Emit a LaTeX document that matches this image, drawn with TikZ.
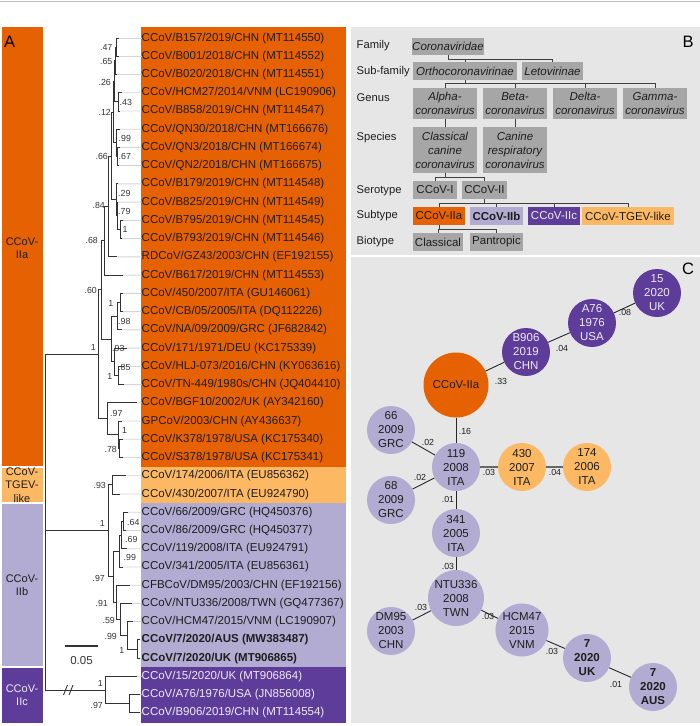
\documentclass[tikz,border=0pt]{standalone}
\usepackage{fontspec}
\setmainfont{Liberation Sans}
\definecolor{cIIa}{HTML}{E66101}
\definecolor{cTG}{HTML}{FDB863}
\definecolor{cIIb}{HTML}{B2ABD2}
\definecolor{cIIc}{HTML}{5E3C99}
\definecolor{panel}{HTML}{E6E6E6}
\definecolor{gboxc}{HTML}{A6A6A6}
\definecolor{ink}{HTML}{1E1E1E}
\definecolor{treec}{HTML}{333333}
\definecolor{extc}{HTML}{D6D6D6}
\definecolor{ltxt}{HTML}{EEEAF6}
\begin{document}
\begin{tikzpicture}[x=1pt,y=-1pt,
  lab/.style={anchor=west,inner sep=0pt,text height=8.5pt,text depth=2.5pt,font=\fontsize{11.5}{13}\selectfont,text=ink},
  supl/.style={anchor=east,inner sep=0pt,font=\fontsize{8.8}{10}\selectfont,text=treec},
  supr/.style={anchor=west,inner sep=0pt,font=\fontsize{8.8}{10}\selectfont,text=treec},
  br/.style={draw=treec,line width=0.9pt},
  ex/.style={draw=extc,line width=0.9pt},
  clab/.style={align=center,inner sep=0pt,font=\fontsize{11}{13.5}\selectfont,text=ink},
  plab/.style={inner sep=0pt,font=\fontsize{16.5}{18}\selectfont,text=black},
  rowl/.style={anchor=west,inner sep=0pt,font=\fontsize{11.2}{14}\selectfont,text=ink},
  gb/.style={fill=gboxc,inner sep=0pt,align=center,font=\fontsize{11.5}{14}\selectfont,text=ink},
  itx/.style={font=\fontsize{11.5}{14}\selectfont\itshape},
  bl/.style={draw=black!75,line width=0.9pt},
  cc/.style={circle,inner sep=0pt,minimum size=48pt,align=center,font=\fontsize{11.5}{14}\selectfont,text=ink},
  el/.style={inner sep=0pt,font=\fontsize{8.8}{10}\selectfont,text=ink},
  ce/.style={draw=black!85,line width=0.9pt}
]
\useasboundingbox (0,0) rectangle (700,726);
\fill[white] (0,0) rectangle (700,726);
\draw[black!25,line width=1pt] (0,1.5) -- (700,1.5);

% ---------------- Panel A ----------------
\fill[cIIa] (2,27) rectangle (43,465.8);
\fill[cTG]  (2,467.6) rectangle (43,502.4);
\fill[cIIb] (2,504.2) rectangle (43,666.4);
\fill[cIIc] (2,668.2) rectangle (43,723);
\fill[cIIa] (141,27) rectangle (346,467);
\fill[cTG]  (141,467) rectangle (346,503.2);
\fill[cIIb] (141,503.2) rectangle (346,667.3);
\fill[cIIc] (141,667.3) rectangle (346,723);

\node[plab,anchor=west] (pA) at (4,42) {A};
\node[clab] (gIIa) at (22,248) {CCoV-\\IIa};
\node[clab] (gTG) at (22,485) {CCoV-\\TGEV-\\like};
\node[clab] (gIIb) at (22,585) {CCoV-\\IIb};
\node[clab,text=ltxt] (gIIc) at (22,695) {CCoV-\\IIc};

% leaf tips
\foreach \i/\tx in {1/119,2/119,3/117,4/122,5/120,6/120,7/120,8/119,9/118,10/118,
  11/123,12/122,13/117,14/123,15/123,16/123,17/122,18/127,19/124,20/124,
  21/137,22/122,23/123,24/123,25/126,26/120,27/128,28/126,29/127,30/123,
  31/130,32/132,33/133,34/140,35/140,36/137,37/140,38/140}
  \coordinate (L\i) at (\tx,{38+18.24*(\i-1)});

% leaf labels
\node[lab] (t1) at (141.5,38.00) {CCoV/B157/2019/CHN (MT114550)};
\node[lab] (t2) at (141.5,56.24) {CCoV/B001/2018/CHN (MT114552)};
\node[lab] (t3) at (141.5,74.48) {CCoV/B020/2018/CHN (MT114551)};
\node[lab] (t4) at (141.5,92.72) {CCoV/HCM27/2014/VNM (LC190906)};
\node[lab] (t5) at (141.5,110.96) {CCoV/B858/2019/CHN (MT114547)};
\node[lab] (t6) at (141.5,129.20) {CCoV/QN30/2018/CHN (MT166676)};
\node[lab] (t7) at (141.5,147.44) {CCoV/QN3/2018/CHN (MT166674)};
\node[lab] (t8) at (141.5,165.68) {CCoV/QN2/2018/CHN (MT166675)};
\node[lab] (t9) at (141.5,183.92) {CCoV/B179/2019/CHN (MT114548)};
\node[lab] (t10) at (141.5,202.16) {CCoV/B825/2019/CHN (MT114549)};
\node[lab] (t11) at (141.5,220.40) {CCoV/B795/2019/CHN (MT114545)};
\node[lab] (t12) at (141.5,238.64) {CCoV/B793/2019/CHN (MT114546)};
\node[lab] (t13) at (141.5,256.88) {RDCoV/GZ43/2003/CHN (EF192155)};
\node[lab] (t14) at (141.5,275.12) {CCoV/B617/2019/CHN (MT114553)};
\node[lab] (t15) at (141.5,293.36) {CCoV/450/2007/ITA (GU146061)};
\node[lab] (t16) at (141.5,311.60) {CCoV/CB/05/2005/ITA (DQ112226)};
\node[lab] (t17) at (141.5,329.84) {CCoV/NA/09/2009/GRC (JF682842)};
\node[lab] (t18) at (141.5,348.08) {CCoV/171/1971/DEU (KC175339)};
\node[lab] (t19) at (141.5,366.32) {CCoV/HLJ-073/2016/CHN (KY063616)};
\node[lab] (t20) at (141.5,384.56) {CCoV/TN-449/1980s/CHN (JQ404410)};
\node[lab] (t21) at (141.5,402.80) {CCoV/BGF10/2002/UK (AY342160)};
\node[lab] (t22) at (141.5,421.04) {GPCoV/2003/CHN (AY436637)};
\node[lab] (t23) at (141.5,439.28) {CCoV/K378/1978/USA (KC175340)};
\node[lab] (t24) at (141.5,457.52) {CCoV/S378/1978/USA (KC175341)};
\node[lab] (t25) at (141.5,475.76) {CCoV/174/2006/ITA (EU856362)};
\node[lab] (t26) at (141.5,494.00) {CCoV/430/2007/ITA (EU924790)};
\node[lab] (t27) at (141.5,512.24) {CCoV/66/2009/GRC (HQ450376)};
\node[lab] (t28) at (141.5,530.48) {CCoV/86/2009/GRC (HQ450377)};
\node[lab] (t29) at (141.5,548.72) {CCoV/119/2008/ITA (EU924791)};
\node[lab] (t30) at (141.5,566.96) {CCoV/341/2005/ITA (EU856361)};
\node[lab] (t31) at (141.5,585.20) {CFBCoV/DM95/2003/CHN (EF192156)};
\node[lab] (t32) at (141.5,603.44) {CCoV/NTU336/2008/TWN (GQ477367)};
\node[lab] (t33) at (141.5,621.68) {CCoV/HCM47/2015/VNM (LC190907)};
\node[lab,font=\fontsize{11.5}{13}\selectfont\bfseries] (t34) at (141.5,639.92) {CCoV/7/2020/AUS (MW383487)};
\node[lab,font=\fontsize{11.5}{13}\selectfont\bfseries] (t35) at (141.5,658.16) {CCoV/7/2020/UK (MT906865)};
\node[lab,text=ltxt] (t36) at (141.5,676.40) {CCoV/15/2020/UK (MT906864)};
\node[lab,text=ltxt] (t37) at (141.5,694.64) {CCoV/A76/1976/USA (JN856008)};
\node[lab,text=ltxt] (t38) at (141.5,712.88) {CCoV/B906/2019/CHN (MT114554)};

\foreach \i in {1,...,38} \draw[ex] (L\i) -- (t\i.west);

% internal nodes
\coordinate (n47) at (116,47.12);
\coordinate (n65) at (115,60.8);
\coordinate (n43) at (118,101.84);
\coordinate (n26) at (114,81.32);
\coordinate (n67) at (117,156.56);
\coordinate (n99) at (116,142.88);
\coordinate (n12) at (113,112.1);
\coordinate (n1a) at (120,229.52);
\coordinate (n79) at (117,215.84);
\coordinate (n29) at (116,199.88);
\coordinate (n66) at (111,156);
\coordinate (n84) at (108,206.44);
\coordinate (n68) at (104,240.78);
\coordinate (n1b) at (120,302.48);
\coordinate (n98) at (117,316.16);
\coordinate (n1c) at (118,375.44);
\coordinate (n85) at (114,361.76);
\coordinate (n93) at (111,338.96);
\coordinate (n60) at (101,289.87);
\coordinate (n78) at (119,448.4);
\coordinate (nGP) at (118,434.72);
\coordinate (n97) at (107,418.76);
\coordinate (nIIa) at (98,354.3);
\coordinate (n93t) at (112,484.88);
\coordinate (n64) at (123,521.36);
\coordinate (n69) at (121,535.04);
\coordinate (n99b) at (119,551);
\coordinate (n7) at (137,649.04);
\coordinate (n99c) at (127,635.36);
\coordinate (n59) at (120,619.4);
\coordinate (n91) at (116,602.3);
\coordinate (n97b) at (113,576.65);
\coordinate (nTG) at (108,530.77);
\coordinate (nA) at (129,703.76);
\coordinate (nIIc) at (105,690.08);
\coordinate (root) at (45,530.77);

\foreach \p/\c in {n47/L1,n47/L2,n65/n47,n65/L3,n43/L4,n43/L5,n26/n65,n26/n43,
  n67/L7,n67/L8,n99/L6,n99/n67,n12/n26,n12/n99,n1a/L11,n1a/L12,n79/L10,n79/n1a,
  n29/L9,n29/n79,n66/n12,n66/n29,n84/n66,n84/L13,n68/n84,n68/L14,n1b/L15,n1b/L16,
  n98/n1b,n98/L17,n1c/L19,n1c/L20,n85/L18,n85/n1c,n93/n98,n93/n85,n60/n68,n60/n93,
  n78/L23,n78/L24,nGP/L22,nGP/n78,n97/L21,n97/nGP,nIIa/n60,nIIa/n97,
  n93t/L25,n93t/L26,n64/L27,n64/L28,n69/n64,n69/L29,n99b/n69,n99b/L30,
  n7/L34,n7/L35,n99c/L33,n99c/n7,n59/L32,n59/n99c,n91/L31,n91/n59,
  n97b/n99b,n97b/n91,nTG/n93t,nTG/n97b,nA/L37,nA/L38,nIIc/L36,nIIc/nA,
  root/nIIa,root/nTG,root/nIIc}
  \draw[br] (\p) |- (\c);

% break mark on the IIc branch
\draw[treec,line width=0.9pt] (63.5,695) -- (67.5,685) (69,695) -- (73,685);

% support values
\node[supl] (s1) at (112.5,47) {.47};
\node[supl] (s2) at (112.5,61) {.65};
\node[supl] (s3) at (111,82) {.26};
\node[supl] (s4) at (111,112) {.12};
\node[supl] (s5) at (108,156) {.66};
\node[supl] (s6) at (105,205) {.84};
\node[supl] (s7) at (98,240) {.68};
\node[supl] (s8) at (97,290) {.60};
\node[supl] (s9) at (113.5,303) {1};
\node[supl] (s10) at (112.5,376) {1};
\node[supl] (s11) at (96,347) {1};
\node[supl] (s12) at (117,449) {.78};
\node[supl] (s13) at (106,485) {.93};
\node[supl] (s14) at (105,523) {1};
\node[supl] (s15) at (105,578) {.97};
\node[supl] (s16) at (108,603) {.91};
\node[supl] (s17) at (115,620) {.59};
\node[supl] (s18) at (117,636) {.99};
\node[supl] (s19) at (124.5,650) {1};
\node[supl] (s20) at (103,683) {1};
\node[supl] (s21) at (103,705) {.97};
\node[supr] (s22) at (119.5,102) {.43};
\node[supr] (s23) at (118.5,138) {.99};
\node[supr] (s24) at (118.5,156) {.67};
\node[supr] (s25) at (118,193) {.29};
\node[supr] (s26) at (118,211) {.79};
\node[supr] (s27) at (122.5,229) {1};
\node[supr] (s28) at (118,321) {.98};
\node[supr] (s29) at (112,348) {.93};
\node[supr] (s30) at (118,367) {.85};
\node[supr] (s31) at (110,413) {.97};
\node[supr] (s32) at (122,430) {1};
\node[supr] (s33) at (127,522) {.64};
\node[supr] (s34) at (125,539) {.69};
\node[supr] (s35) at (123.5,557) {.99};

% scale bar
\coordinate (sb1) at (65,646);
\coordinate (sb2) at (98,646);
\draw[treec,line width=1.1pt] (sb1) -- (sb2);
\node[inner sep=0pt,font=\fontsize{11.5}{13}\selectfont,text=treec] (sbl) at (81.5,661) {0.05};

% ---------------- Panel B ----------------
\fill[panel] (351,27) rectangle (700,254.5);
\node[plab] (pB) at (688,42) {B};
\node[rowl] (r1) at (356.5,46) {Family};
\node[rowl] (r2) at (356.5,72) {Sub-family};
\node[rowl] (r3) at (356.5,98) {Genus};
\node[rowl] (r4) at (356.5,138) {Species};
\node[rowl] (r5) at (356.5,191) {Serotype};
\node[rowl] (r6) at (356.5,216) {Subtype};
\node[rowl] (r7) at (356.5,242) {Biotype};

\node[gb,itx,minimum width=70pt,minimum height=17pt] (fam) at (448,46) {Coronaviridae};
\node[gb,itx,minimum width=104pt,minimum height=18pt] (orth) at (465,71) {Orthocoronavirinae};
\node[gb,itx,minimum width=61pt,minimum height=18pt] (leto) at (552.5,71) {Letovirinae};
\node[gb,itx,minimum width=64pt,minimum height=31pt] (alpha) at (445,103.5) {Alpha-\\coronavirus};
\node[gb,itx,minimum width=64pt,minimum height=31pt] (beta) at (515,103.5) {Beta-\\coronavirus};
\node[gb,itx,minimum width=64pt,minimum height=31pt] (delta) at (585,103.5) {Delta-\\coronavirus};
\node[gb,itx,minimum width=64pt,minimum height=31pt] (gamma) at (655,103.5) {Gamma-\\coronavirus};
\node[gb,itx,minimum width=64pt,minimum height=46pt] (ccc) at (445,150) {Classical\\canine\\coronavirus};
\node[gb,itx,minimum width=64pt,minimum height=46pt] (crc) at (515,150) {Canine\\respiratory\\coronavirus};
\node[gb,minimum width=44pt,minimum height=18pt] (c1) at (435,190) {CCoV-I};
\node[gb,minimum width=45pt,minimum height=18pt] (c2) at (484.5,190) {CCoV-II};
\node[gb,fill=cIIa,minimum width=52pt,minimum height=18pt] (sa) at (439,216) {CCoV-IIa};
\node[gb,fill=cIIb,font=\fontsize{11.5}{14}\selectfont\bfseries,minimum width=53pt,minimum height=18pt] (sb) at (496.5,216) {CCoV-IIb};
\node[gb,fill=cIIc,text=ltxt,minimum width=52pt,minimum height=18pt] (sc) at (554,216) {CCoV-IIc};
\node[gb,fill=cTG,minimum width=92pt,minimum height=18pt] (st) at (628,216) {CCoV-TGEV-like};
\node[gb,minimum width=50pt,minimum height=18pt] (bc) at (438,242) {Classical};
\node[gb,minimum width=53pt,minimum height=18pt] (bp) at (496.5,242) {Pantropic};

\draw[bl] (fam.south) -- ++(0,4.5) coordinate (f0);
\draw[bl] (f0) -| (orth.north);
\draw[bl] (f0) -| (leto.north);
\draw[bl] (orth.south) -- ++(0,3.5) coordinate (g0);
\foreach \g in {alpha,beta,delta,gamma} \draw[bl] (g0) -| (\g.north);
\draw[bl] (alpha.south) -- (ccc.north);
\draw[bl] (beta.south) -- (crc.north);
\draw[bl] (ccc.south) -- ++(0,4) coordinate (k0);
\draw[bl] (k0) -| (c1.north);
\draw[bl] (k0) -| (c2.north);
\draw[bl] (c2.south) -- ++(0,4) coordinate (k1);
\foreach \g in {sa,sb,sc,st} \draw[bl] (k1) -| (\g.north);
\draw[bl] (sa.south) -- ++(0,4) coordinate (k2);
\draw[bl] (k2) -| (bc.north);
\draw[bl] (k2) -| (bp.north);

% ---------------- Panel C ----------------
\fill[panel] (351,256.5) rectangle (700,723);
\node[plab] (pC) at (688,269) {C};

\node[cc,fill=cIIc,text=ltxt] (u15) at (657,293) {15\\2020\\UK};
\node[cc,fill=cIIc,text=ltxt] (a76) at (592,323) {A76\\1976\\USA};
\node[cc,fill=cIIc,text=ltxt] (b906) at (526,352) {B906\\2019\\CHN};
\node[cc,fill=cIIa,minimum size=65pt] (iia) at (456,385) {CCoV-IIa};
\node[cc,fill=cIIb] (g66) at (391,430) {66\\2009\\GRC};
\node[cc,fill=cIIb] (i119) at (456,467) {119\\2008\\ITA};
\node[cc,fill=cTG] (i430) at (522,467) {430\\2007\\ITA};
\node[cc,fill=cTG] (i174) at (587,467) {174\\2006\\ITA};
\node[cc,fill=cIIb] (g68) at (391,500) {68\\2009\\GRC};
\node[cc,fill=cIIb] (i341) at (456,533) {341\\2005\\ITA};
\node[cc,fill=cIIb] (ntu) at (456,598) {NTU336\\2008\\TWN};
\node[cc,fill=cIIb] (dm95) at (391,631) {DM95\\2003\\CHN};
\node[cc,fill=cIIb] (hcm) at (522,630) {HCM47\\2015\\VNM};
\node[cc,fill=cIIb,font=\fontsize{11.5}{14}\selectfont\bfseries] (uk7) at (587,658) {7\\2020\\UK};
\node[cc,fill=cIIb,font=\fontsize{11.5}{14}\selectfont\bfseries] (aus7) at (653,687) {7\\2020\\AUS};

\draw[ce] (u15) -- (a76);
\draw[ce] (a76) -- (b906);
\draw[ce] (b906) -- (iia);
\draw[ce] (iia) -- (i119);
\draw[ce] (i119) -- (g66);
\draw[ce] (i119) -- (g68);
\draw[ce,draw=black!60,line width=1.6pt] (i119) -- (i430);
\draw[ce,draw=black!60,line width=1.6pt] (i430) -- (i174);
\draw[ce] (i119) -- (i341);
\draw[ce] (i341) -- (ntu);
\draw[ce] (ntu) -- (dm95);
\draw[ce] (ntu) -- (hcm);
\draw[ce] (hcm) -- (uk7);
\draw[ce] (uk7) -- (aus7);

\node[el] (e1) at (625,312) {.08};
\node[el] (e2) at (562,348) {.04};
\node[el] (e3) at (501,381) {.33};
\node[el] (e4) at (465,431) {.16};
\node[el] (e5) at (428,442) {.02};
\node[el] (e6) at (420,477) {.02};
\node[el] (e7) at (489,472) {.03};
\node[el] (e8) at (555,472) {.04};
\node[el] (e9) at (448,499) {.01};
\node[el] (e10) at (448,566) {.03};
\node[el] (e11) at (421,607) {.03};
\node[el] (e12) at (488,616) {.03};
\node[el] (e13) at (552,651) {.03};
\node[el] (e14) at (616,684) {.01};
\end{tikzpicture}
\end{document}
